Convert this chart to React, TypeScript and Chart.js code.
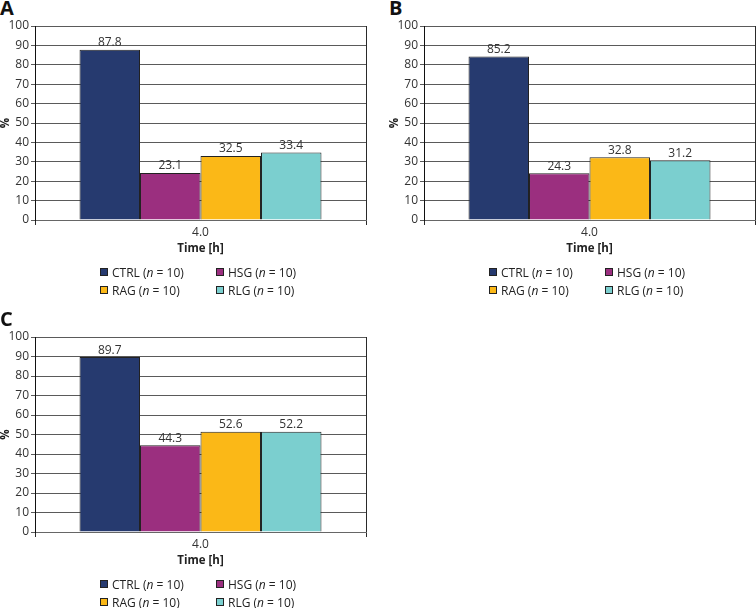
import React, { useEffect, useRef } from 'react';
import { Chart, registerables } from 'chart.js';

Chart.register(...registerables);

const categories = ['4.0'];
const groupNames = ['CTRL', 'HSG', 'RAG', 'RLG'];
const groupSizes = [10, 10, 10, 10];
const groupColors = ['#263a6f', '#9b2f7f', '#fbb817', '#7bcfcf'];
const yMin = 0;
const yMax = 100;
const yStep = 10;
const xTitle = 'Time [h]';
const yTitle = '%';

// bar heights as drawn, and the value labels as printed
const panelAValues = [87.8, 24.2, 33.0, 34.8];
const panelALabels = ['87.8', '23.1', '32.5', '33.4'];
const panelBValues = [84.3, 24.1, 32.4, 30.8];
const panelBLabels = ['85.2', '24.3', '32.8', '31.2'];
const panelCValues = [89.7, 44.5, 51.4, 51.4];
const panelCLabels = ['89.7', '44.3', '52.6', '52.2'];

const FONT = '"Open Sans", "DejaVu Sans", sans-serif';

const valueLabelsPlugin = {
  id: 'valueLabels',
  afterDatasetsDraw(chart: any, _args: any, opts: any) {
    const { ctx } = chart;
    ctx.save();
    ctx.font = `12px ${FONT}`;
    ctx.fillStyle = '#333';
    ctx.textAlign = 'center';
    ctx.textBaseline = 'bottom';
    chart.data.datasets.forEach((_ds: any, i: number) => {
      const meta = chart.getDatasetMeta(i);
      meta.data.forEach((bar: any) => {
        ctx.fillText(opts.labels[i], bar.x, bar.y - 1);
      });
    });
    ctx.restore();
  },
};

type PanelProps = {
  letter: string;
  values: number[];
  labels: string[];
  left: number;
  top: number;
  width: number;
  height: number;
  padTop: number;
  padRight: number;
  padBottom: number;
};

const X_SCALE_H = 36;
const Y_SCALE_W = 35;

function Panel(p: PanelProps) {
  const ref = useRef<HTMLCanvasElement | null>(null);
  useEffect(() => {
    if (!ref.current) return;
    const chart = new Chart(ref.current, {
      type: 'bar',
      data: {
        labels: categories,
        datasets: groupNames.map((name, i) => ({
          label: name,
          data: [p.values[i]],
          backgroundColor: groupColors[i],
          borderColor: '#222',
          borderWidth: 1,
          categoryPercentage: 0.731,
          barPercentage: 1,
        })),
      },
      options: {
        responsive: false,
        animation: false,
        devicePixelRatio: 1,
        layout: { padding: { top: p.padTop, right: p.padRight, bottom: p.padBottom, left: 0 } },
        plugins: {
          legend: { display: false },
          tooltip: { enabled: false },
          valueLabels: { labels: p.labels },
        } as any,
        scales: {
          x: {
            type: 'category',
            offset: true,
            grid: {
              offset: true,
              drawOnChartArea: true,
              color: '#2a2a2a',
              lineWidth: 1,
              tickLength: 5,
            },
            border: { display: true, color: '#666', width: 1 },
            ticks: { font: { family: FONT, size: 12 }, color: '#333', padding: 0 },
            title: {
              display: true,
              text: xTitle,
              font: { family: FONT, size: 11.5, weight: 'bold' },
              color: '#222',
              padding: 0,
            },
            afterFit: (s: any) => {
              s.height = X_SCALE_H;
            },
          },
          y: {
            min: yMin,
            max: yMax,
            ticks: { stepSize: yStep, font: { family: FONT, size: 12 }, color: '#333', padding: 2 },
            grid: { color: '#5a5a5a', lineWidth: 1, tickLength: 4 },
            border: { display: true, color: '#111', width: 1 },
            title: {
              display: true,
              text: yTitle,
              font: { family: FONT, size: 11.5, weight: 'bold', lineHeight: 1 },
              color: '#222',
              padding: 0,
            },
            afterFit: (s: any) => {
              s.width = Y_SCALE_W;
            },
          },
        },
      } as any,
      plugins: [valueLabelsPlugin],
    });
    return () => chart.destroy();
  }, []);

  const plotTop = p.padTop;
  const plotBottom = p.height - p.padBottom - X_SCALE_H;
  const legendRow1 = plotBottom + 52;
  const rowGap = 18;

  const legendItem = (i: number, x: number, cy: number) => (
    <div
      key={i}
      style={{
        position: 'absolute',
        left: x,
        top: cy - 8,
        height: 16,
        display: 'flex',
        alignItems: 'center',
        font: `12px ${FONT}`,
        color: '#222',
        whiteSpace: 'nowrap',
      }}
    >
      <span
        style={{
          display: 'inline-block',
          width: 6,
          height: 6,
          background: groupColors[i],
          border: '1px solid #222',
          marginRight: 4,
        }}
      />
      <span>
        {groupNames[i]} (<i>n</i> = {groupSizes[i]})
      </span>
    </div>
  );

  return (
    <div style={{ position: 'absolute', left: p.left, top: p.top, width: p.width, height: p.height }}>
      <div
        style={{
          position: 'absolute',
          left: 0,
          top: plotTop - 10.7 - 17.8,
          font: `bold 20px ${FONT}`,
          lineHeight: '20px',
          color: '#111',
        }}
      >
        {p.letter}
      </div>
      <canvas ref={ref} width={p.width} height={p.height} style={{ position: 'absolute', left: 0, top: 0 }} />
      {legendItem(0, 100, legendRow1)}
      {legendItem(1, 216, legendRow1)}
      {legendItem(2, 100, legendRow1 + rowGap)}
      {legendItem(3, 216, legendRow1 + rowGap)}
    </div>
  );
}

export default function App() {
  useEffect(() => {
    document.body.style.margin = '0';
    document.body.style.background = '#fff';
  }, []);
  return (
    <div style={{ position: 'relative', width: 756, height: 608, overflow: 'hidden', background: '#fff' }}>
      <Panel letter="A" values={panelAValues} labels={panelALabels} left={0} top={0} width={378} height={305} padTop={26} padRight={12} padBottom={49} />
      <Panel letter="B" values={panelBValues} labels={panelBLabels} left={389} top={0} width={367} height={305} padTop={26} padRight={1} padBottom={49} />
      <Panel letter="C" values={panelCValues} labels={panelCLabels} left={0} top={305} width={378} height={303} padTop={32} padRight={12} padBottom={40} />
    </div>
  );
}
